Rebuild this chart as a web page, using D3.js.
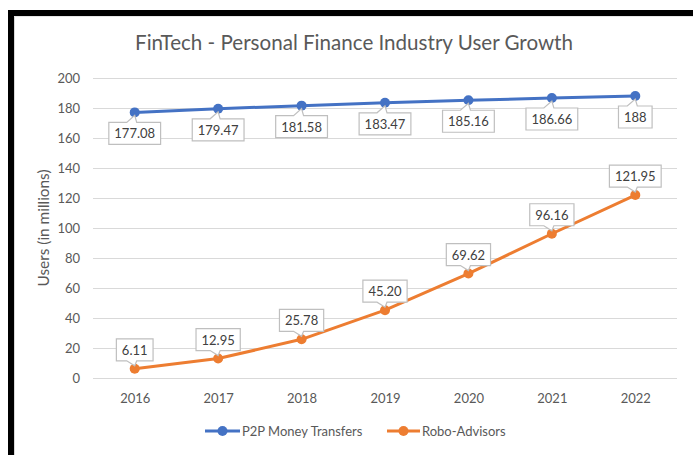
<!DOCTYPE html>
<html>
<head>
<meta charset="utf-8">
<script src="https://cdn.jsdelivr.net/npm/d3@7"></script>
<style>
  html, body { margin: 0; padding: 0; background: #fff; }
  svg { display: block; font-family: Lato, "Open Sans", sans-serif; }
</style>
</head>
<body>
<div id="chart"></div>
<script>
const categories = ["2016", "2017", "2018", "2019", "2020", "2021", "2022"];
const p2pValues = [177.08, 179.47, 181.58, 183.47, 185.16, 186.66, 188];
const p2pLabels = ["177.08", "179.47", "181.58", "183.47", "185.16", "186.66", "188"];
const roboValues = [6.11, 12.95, 25.78, 45.20, 69.62, 96.16, 121.95];
const roboLabels = ["6.11", "12.95", "25.78", "45.20", "69.62", "96.16", "121.95"];
const yTicks = [0, 20, 40, 60, 80, 100, 120, 140, 160, 180, 200];
const seriesNames = ["P2P Money Transfers", "Robo-Advisors"];
const titleText = "FinTech - Personal Finance Industry User Growth";
const yTitleText = "Users (in millions)";

const W = 693, H = 455;
const colors = ["#4472C4", "#ED7D31"];
const svg = d3.select("#chart").append("svg").attr("width", W).attr("height", H);

// frame
svg.append("rect").attr("x", 8).attr("y", 10).attr("width", W - 8).attr("height", 6).attr("fill", "#000");
svg.append("rect").attr("x", 8).attr("y", 10).attr("width", 6).attr("height", H - 10).attr("fill", "#000");
svg.append("line").attr("x1", 14.5).attr("x2", 14.5).attr("y1", 16).attr("y2", H).attr("stroke", "#d9d9d9");
svg.append("line").attr("x1", 14).attr("x2", W).attr("y1", 16.5).attr("y2", 16.5).attr("stroke", "#e6e6e6");

const x = d3.scalePoint().domain(categories).range([93, 677]).padding(0.5);
const y = d3.scaleLinear().domain([0, 200]).range([378, 78]);

function fit(sel, target) {
  let fs = parseFloat(sel.attr("font-size"));
  for (let i = 0; i < 3; i++) {
    const w = sel.node().getComputedTextLength();
    if (w > 0) { fs = fs * target / w; sel.attr("font-size", fs); }
  }
}

// title
const title = svg.append("text").attr("x", 354).attr("y", 50).attr("text-anchor", "middle")
  .attr("font-size", 20).attr("fill", "#595959").text(titleText);
fit(title, 438);

// y axis with gridlines
const yAxis = svg.append("g").attr("transform", "translate(93,0)")
  .call(d3.axisLeft(y).tickValues(yTicks).tickSize(-584).tickPadding(13));
yAxis.select(".domain").remove();
yAxis.selectAll(".tick line").attr("stroke", "#d9d9d9").attr("stroke-width", 1);
yAxis.selectAll(".tick text").attr("fill", "#595959").attr("font-size", 13).attr("font-family", "Lato, 'Open Sans', sans-serif");

// x axis
const xAxis = svg.append("g").attr("transform", "translate(0,378)")
  .call(d3.axisBottom(x).tickSize(0).tickPadding(16));
xAxis.select(".domain").remove();
xAxis.selectAll(".tick text").attr("fill", "#595959").attr("font-size", 13).attr("font-family", "Lato, 'Open Sans', sans-serif");

// y title
const yTitle = svg.append("text").attr("transform", "translate(49,228) rotate(-90)")
  .attr("text-anchor", "middle").attr("font-size", 14).attr("fill", "#595959").text(yTitleText);
fit(yTitle, 117);

// lines
const line = d3.line().x((d, i) => x(categories[i])).y(d => y(d));
[p2pValues, roboValues].forEach((vals, s) => {
  svg.append("path").datum(vals).attr("d", line).attr("fill", "none")
    .attr("stroke", colors[s]).attr("stroke-width", 3).attr("stroke-linejoin", "round");
  svg.append("g").selectAll("circle").data(vals).join("circle")
    .attr("cx", (d, i) => x(categories[i])).attr("cy", d => y(d)).attr("r", 5).attr("fill", colors[s]);
});

// callout labels
function callouts(vals, labels, below) {
  const g = svg.append("g");
  vals.forEach((v, i) => {
    const px = x(categories[i]), py = y(v);
    const t = g.append("text").attr("font-size", 13).attr("fill", "#404040")
      .attr("text-anchor", "middle").text(labels[i]);
    const tw = t.node().getComputedTextLength();
    const bw = tw + 11, bh = 22;
    const x0 = px - bw / 2, x1 = px + bw / 2;
    let d;
    if (below) {
      const y0 = py + 10, y1 = y0 + bh;
      d = `M${x0},${y0}H${px - 8}L${px},${py + 3}L${px + 2},${y0}H${x1}V${y1}H${x0}Z`;
      t.attr("x", px).attr("y", y0 + 16);
    } else {
      const y1 = py - 8, y0 = y1 - bh;
      d = `M${x0},${y0}H${x1}V${y1}H${px + 2}L${px},${py - 3}L${px - 8},${y1}H${x0}Z`;
      t.attr("x", px).attr("y", y0 + 16);
    }
    g.insert("path", "text").attr("d", d).attr("fill", "#fff").attr("stroke", "#bfbfbf").attr("stroke-width", 1.2);
  });
}
callouts(p2pValues, p2pLabels, true);
callouts(roboValues, roboLabels, false);

// legend
const legendItems = [
  { name: seriesNames[0], x1: 205, x2: 240, tx: 242 },
  { name: seriesNames[1], x1: 387, x2: 420, tx: 422 }
];
legendItems.forEach((it, s) => {
  const lg = svg.append("g");
  lg.append("line").attr("x1", it.x1).attr("x2", it.x2).attr("y1", 431).attr("y2", 431)
    .attr("stroke", colors[s]).attr("stroke-width", 3);
  lg.append("circle").attr("cx", (it.x1 + it.x2) / 2).attr("cy", 431).attr("r", 5).attr("fill", colors[s]);
  lg.append("text").attr("x", it.tx).attr("y", 436).attr("font-size", 13).attr("fill", "#595959").text(it.name);
});
</script>
</body>
</html>
